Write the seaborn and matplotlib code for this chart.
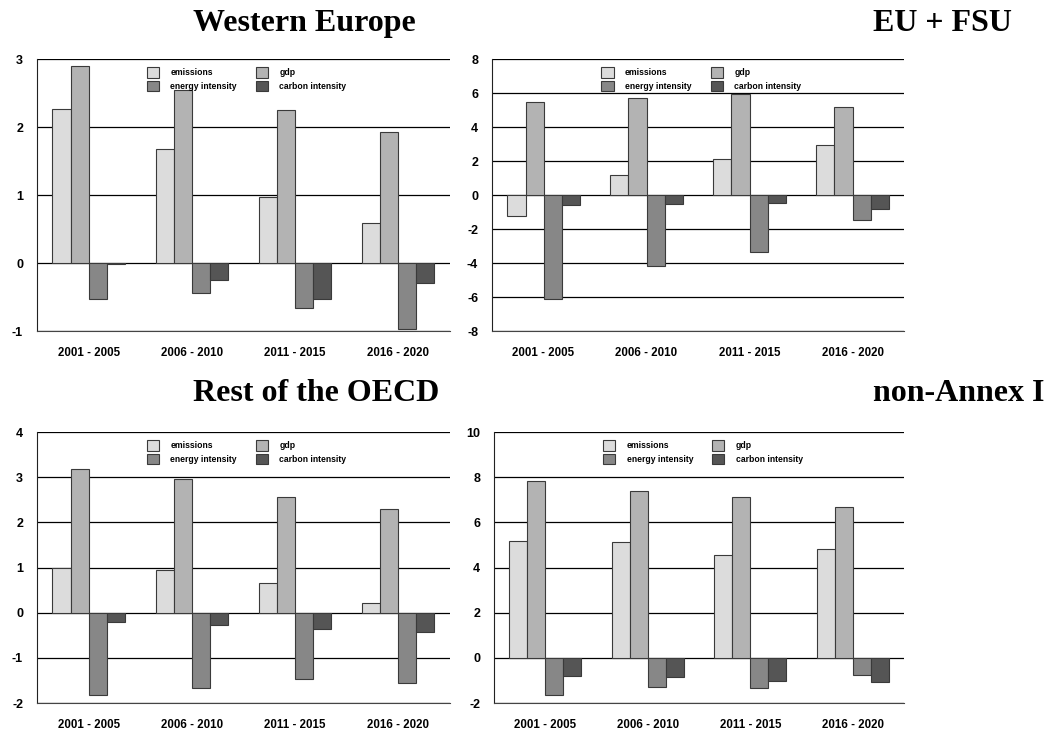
import pandas as pd
import matplotlib.pyplot as plt
import seaborn as sns

periods = ['2001 - 2005', '2006 - 2010', '2011 - 2015', '2016 - 2020']
factors = ['emissions', 'gdp', 'energy intensity', 'carbon intensity']
palette = ['#dcdcdc', '#b3b3b3', '#878787', '#555555']

# values per region, one list per factor (same order as periods)
western_europe = {
    'emissions': [2.26, 1.68, 0.97, 0.59],
    'gdp': [2.90, 2.55, 2.25, 1.92],
    'energy intensity': [-0.53, -0.44, -0.66, -0.97],
    'carbon intensity': [-0.02, -0.25, -0.53, -0.29],
}
eu_fsu = {
    'emissions': [-1.24, 1.16, 2.10, 2.93],
    'gdp': [5.50, 5.72, 5.97, 5.19],
    'energy intensity': [-6.13, -4.18, -3.36, -1.49],
    'carbon intensity': [-0.59, -0.53, -0.49, -0.81],
}
rest_oecd = {
    'emissions': [1.00, 0.94, 0.65, 0.21],
    'gdp': [3.18, 2.97, 2.56, 2.30],
    'energy intensity': [-1.82, -1.67, -1.47, -1.55],
    'carbon intensity': [-0.21, -0.28, -0.35, -0.43],
}
non_annex = {
    'emissions': [5.17, 5.11, 4.54, 4.80],
    'gdp': [7.81, 7.41, 7.14, 6.66],
    'energy intensity': [-1.65, -1.27, -1.35, -0.74],
    'carbon intensity': [-0.82, -0.85, -1.03, -1.06],
}

sns.set_style("white")
plt.rcParams['font.family'] = ['Liberation Sans', 'DejaVu Sans']
plt.rcParams['axes.unicode_minus'] = False
plt.rcParams['text.color'] = 'black'
plt.rcParams['xtick.color'] = 'black'
plt.rcParams['ytick.color'] = 'black'

fig = plt.figure(figsize=(10.44, 7.34), dpi=100)

# title, data, y range, tick step, axes rect, title position
panels = [
    ('Western Europe', western_europe, (-1, 3), 1, [0.0354, 0.549, 0.3956, 0.3706], (193, 31)),
    ('EU + FSU', eu_fsu, (-8, 8), 2, [0.4713, 0.549, 0.3946, 0.3706], (873, 31)),
    ('Rest of the OECD', rest_oecd, (-2, 4), 1, [0.0354, 0.0422, 0.3956, 0.3692], (193, 401)),
    ('non-Annex I', non_annex, (-2, 10), 2, [0.4732, 0.0422, 0.3927, 0.3692], (873, 401)),
]

for title, data, (ymin, ymax), step, rect, (tx, ty) in panels:
    df = pd.DataFrame(data, index=periods).reset_index(names='period')
    df = df.melt(id_vars='period', var_name='factor', value_name='value')

    ax = fig.add_axes(rect)
    sns.barplot(data=df, x='period', y='value', hue='factor', hue_order=factors,
                palette=palette, width=0.7, edgecolor='#3a3a3a', linewidth=0.8,
                saturation=1, ax=ax)

    ax.set_xlim(-0.5, 3.5)
    ax.set_ylim(ymin, ymax)
    ax.set_yticks(range(ymin, ymax + 1, step))
    ax.set_axisbelow(True)
    ax.yaxis.grid(True, color='black', linewidth=0.9)
    ax.set_xlabel('')
    ax.set_ylabel('')

    for side in ['top', 'right']:
        ax.spines[side].set_visible(False)
    ax.spines['left'].set_color('#222222')
    ax.spines['bottom'].set_color('#444444')
    ax.tick_params(axis='y', direction='out', length=6, width=0.8, color='#444444',
                   pad=4, labelsize=9)
    ax.tick_params(axis='x', direction='out', length=6.5, width=0.8, color='#444444',
                   pad=5, labelsize=8.3)
    for lab in ax.get_xticklabels() + ax.get_yticklabels():
        lab.set_fontweight('bold')

    # legend: two columns, row 1 emissions / gdp, row 2 intensities
    handles, labels = ax.get_legend_handles_labels()
    order = [0, 2, 1, 3]
    ax.legend([handles[i] for i in order], [labels[i] for i in order], ncol=2,
              loc='upper left', bbox_to_anchor=(0.255, 0.985), frameon=False,
              prop={'size': 6.2, 'weight': 'bold'}, handlelength=1.45, handleheight=1.45,
              handletextpad=1.3, columnspacing=2.2, labelspacing=0.35, borderpad=0)

    fig.text(tx / 1044, 1 - ty / 734, title, ha='left', va='baseline',
             family='Liberation Serif', fontweight='bold', fontsize=23, color='black')

fig.savefig('out.png', dpi=100)
